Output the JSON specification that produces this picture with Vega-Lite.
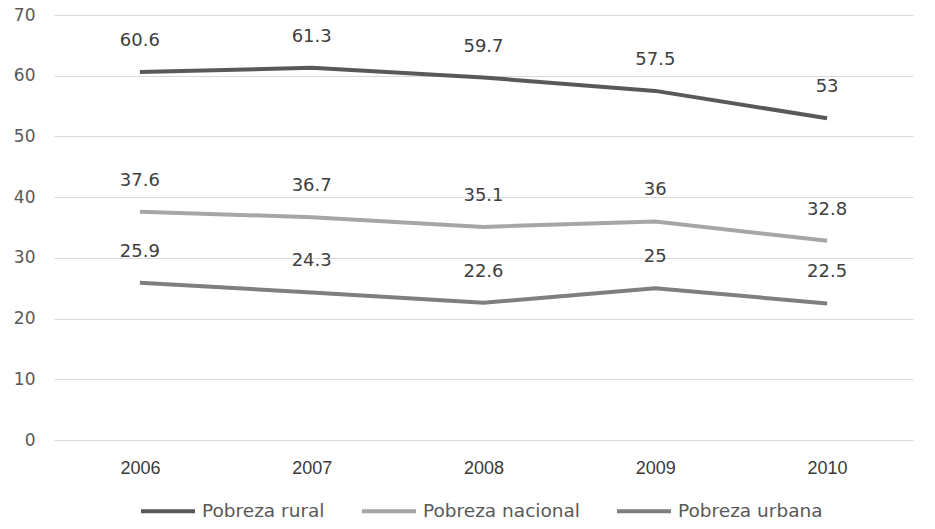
{
  "$schema": "https://vega.github.io/schema/vega-lite/v6.json",
  "width": 859,
  "height": 425,
  "autosize": "none",
  "padding": {"left": 54, "top": 15, "right": 22, "bottom": 89},
  "background": "white",
  "config": {"view": {"stroke": null}},
  "data": {
    "values": [
      {"year": "2006", "serie": "Pobreza rural", "value": 60.6},
      {"year": "2007", "serie": "Pobreza rural", "value": 61.3},
      {"year": "2008", "serie": "Pobreza rural", "value": 59.7},
      {"year": "2009", "serie": "Pobreza rural", "value": 57.5},
      {"year": "2010", "serie": "Pobreza rural", "value": 53},
      {"year": "2006", "serie": "Pobreza nacional", "value": 37.6},
      {"year": "2007", "serie": "Pobreza nacional", "value": 36.7},
      {"year": "2008", "serie": "Pobreza nacional", "value": 35.1},
      {"year": "2009", "serie": "Pobreza nacional", "value": 36},
      {"year": "2010", "serie": "Pobreza nacional", "value": 32.8},
      {"year": "2006", "serie": "Pobreza urbana", "value": 25.9},
      {"year": "2007", "serie": "Pobreza urbana", "value": 24.3},
      {"year": "2008", "serie": "Pobreza urbana", "value": 22.6},
      {"year": "2009", "serie": "Pobreza urbana", "value": 25},
      {"year": "2010", "serie": "Pobreza urbana", "value": 22.5}
    ]
  },
  "encoding": {
    "x": {
      "field": "year", "type": "ordinal",
      "scale": {"type": "point", "padding": 0.5},
      "axis": {
        "title": null, "labelAngle": 0, "domain": false, "ticks": false, "grid": false,
        "labelFont": "Liberation Sans", "labelFontSize": 18, "labelColor": "#3a3a3a",
        "labelPadding": 19
      }
    },
    "y": {
      "field": "value", "type": "quantitative",
      "scale": {"domain": [0, 70]},
      "axis": {
        "title": null, "values": [0, 10, 20, 30, 40, 50, 60, 70], "domain": false, "ticks": false,
        "gridColor": "#d9d9d9", "gridWidth": 1,
        "labelFont": "DejaVu Sans", "labelFontSize": 17, "labelColor": "#595959", "labelPadding": 19
      }
    },
    "color": {
      "field": "serie", "type": "nominal",
      "scale": {
        "domain": ["Pobreza rural", "Pobreza nacional", "Pobreza urbana"],
        "range": ["#595959", "#a6a6a6", "#7f7f7f"]
      },
      "legend": {
        "title": null, "orient": "none", "direction": "horizontal",
        "legendX": 85, "legendY": 467,
        "symbolType": "stroke", "symbolSize": 2916, "symbolStrokeWidth": 4,
        "labelFont": "DejaVu Sans", "labelFontSize": 18.5, "labelColor": "#595959",
        "labelOffset": 5, "columnPadding": 29
      }
    }
  },
  "layer": [
    {"mark": {"type": "line", "strokeWidth": 4}},
    {
      "mark": {"type": "text", "dy": -31, "font": "DejaVu Sans", "fontSize": 18},
      "encoding": {"text": {"field": "value", "type": "quantitative"}, "color": {"value": "#404040"}}
    }
  ]
}
